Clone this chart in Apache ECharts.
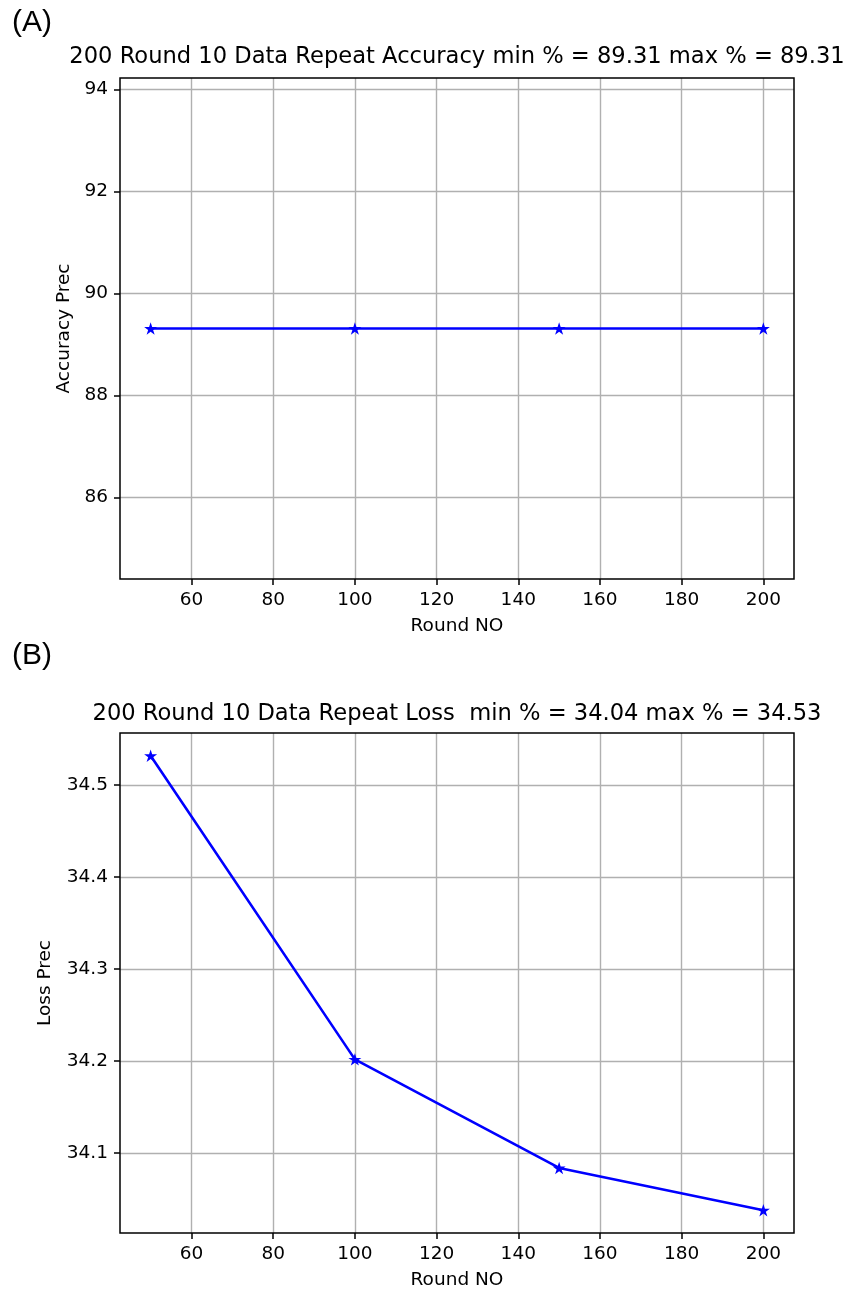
<!DOCTYPE html>
<html>
<head>
<meta charset="utf-8">
<script src="https://cdn.jsdelivr.net/npm/echarts@6/dist/echarts.min.js"></script>
<style>
html,body{margin:0;padding:0;background:#fff;}
#chart{width:848px;height:1291px;}
</style>
</head>
<body>
<div id="chart"></div>
<script>
// ---- data ----
const rounds = [50, 100, 150, 200];
const accuracy = [89.31, 89.31, 89.31, 89.31];
const loss = [34.532, 34.202, 34.084, 34.038];
const xTicks = [60, 80, 100, 120, 140, 160, 180, 200];
const accTicks = [86, 88, 90, 92, 94];
const lossTicks = [34.1, 34.2, 34.3, 34.4, 34.5];
const titleA = '200 Round 10 Data Repeat Accuracy min % = 89.31 max % = 89.31';
const titleB = '200 Round 10 Data Repeat Loss  min % = 34.04 max % = 34.53';
const panelA = '(A)';
const panelB = '(B)';
const xName = 'Round NO';
const accName = 'Accuracy Prec';
const lossName = 'Loss Prec';

// ---- matplotlib-like autoscale ----
function autoRange(vals) {
  let lo = Math.min(...vals), hi = Math.max(...vals);
  if (lo === hi) { lo -= 0.05 * Math.abs(lo); hi += 0.05 * Math.abs(hi); }
  const m = (hi - lo) * 0.05;
  return [lo - m, hi + m];
}
const xr = autoRange(rounds);
const ar = autoRange(accuracy);
const lr = autoRange(loss);

const FONT = 'DejaVu Sans';
const TICK = 18.5;
const star = 'path://M0 -100 L22.45 -30.9 L95.1 -30.9 L36.3 11.8 L58.8 80.9 L0 38.2 L-58.8 80.9 L-36.3 11.8 L-95.1 -30.9 L-22.45 -30.9 Z';

function xAxis(gi) {
  return {
    type: 'value', gridIndex: gi, min: xr[0], max: xr[1],
    name: xName, nameLocation: 'middle', nameGap: 38,
    nameTextStyle: {fontFamily: FONT, fontSize: TICK, color: '#000'},
    axisLine: {show: false},
    axisTick: {show: true, length: 6, lineStyle: {color: '#000', width: 1.5}, customValues: xTicks},
    axisLabel: {fontFamily: FONT, fontSize: TICK, color: '#000', margin: 12, customValues: xTicks},
    splitLine: {show: true, lineStyle: {color: '#b0b0b0', width: 1.4}}
  };
}
function yAxis(gi, r, ticks, name, gap) {
  return {
    type: 'value', gridIndex: gi, min: r[0], max: r[1],
    name: name, nameLocation: 'middle', nameGap: gap,
    nameTextStyle: {fontFamily: FONT, fontSize: TICK, color: '#000'},
    axisLine: {show: false},
    axisTick: {show: true, length: 6, lineStyle: {color: '#000', width: 1.5}, customValues: ticks},
    axisLabel: {fontFamily: FONT, fontSize: TICK, color: '#000', margin: 12, customValues: ticks},
    splitLine: {show: true, lineStyle: {color: '#b0b0b0', width: 1.4}}
  };
}
function series(gi, vals) {
  return {
    type: 'line', xAxisIndex: gi, yAxisIndex: gi,
    data: rounds.map((x, i) => [x, vals[i]]),
    symbol: star, symbolSize: 13, symbolKeepAspect: true,
    lineStyle: {color: '#0000ff', width: 2.6},
    itemStyle: {color: '#0000ff'},
    animation: false, z: 5
  };
}

const chart = echarts.init(document.getElementById('chart'), null, {renderer: 'canvas'});
chart.setOption({
  backgroundColor: '#fff',
  animation: false,
  grid: [
    {left: 120, top: 78, width: 674, height: 501, show: true, borderColor: '#000', borderWidth: 1.5, backgroundColor: 'transparent', z: 4},
    {left: 120, top: 733, width: 674, height: 501, show: true, borderColor: '#000', borderWidth: 1.5, backgroundColor: 'transparent', z: 4}
  ],
  xAxis: [xAxis(0), xAxis(1)],
  yAxis: [yAxis(0, ar, accTicks, accName, 45), yAxis(1, lr, lossTicks, lossName, 65)],
  series: [series(0, accuracy), series(1, loss)],
  graphic: [
    {type: 'text', left: 12, top: 8, style: {text: panelA, font: '30px "Liberation Sans"', fill: '#000'}},
    {type: 'text', left: 12, top: 641, style: {text: panelB, font: '30px "Liberation Sans"', fill: '#000'}},
    {type: 'text', x: 457, y: 57, style: {text: titleA, font: '22.6px "DejaVu Sans"', fill: '#000', textAlign: 'center', textVerticalAlign: 'middle'}},
    {type: 'text', x: 457, y: 714, style: {text: titleB, font: '22.6px "DejaVu Sans"', fill: '#000', textAlign: 'center', textVerticalAlign: 'middle'}}
  ]
});
</script>
</body>
</html>
